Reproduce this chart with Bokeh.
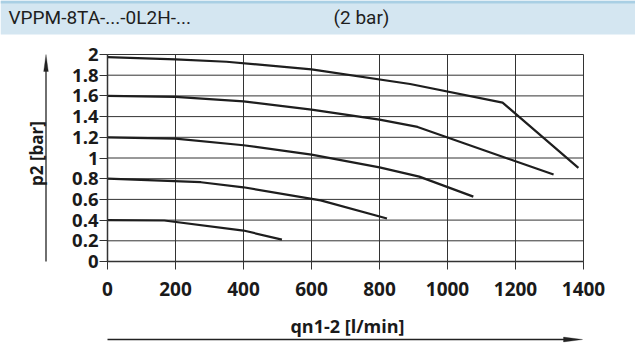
import math
from bokeh.plotting import figure
from bokeh.models import (FixedTicker, Label, BoxAnnotation, PolyAnnotation, Arrow,
                          Range1d, CustomJSTickFormatter, LinearAxis)
from bokeh.embed import file_html
from bokeh.resources import INLINE

# ---- data ----
header_left = "VPPM-8TA-...-0L2H-..."
header_right = "(2 bar)"
x_label = "qn1-2 [l/min]"
y_label = "p2 [bar]"
x_ticks = [0, 200, 400, 600, 800, 1000, 1200, 1400]
y_ticks = [0, 0.2, 0.4, 0.6, 0.8, 1, 1.2, 1.4, 1.6, 1.8, 2]

q_20 = [0, 200, 350, 600, 890, 1162, 1385]
p_20 = [1.975, 1.953, 1.93, 1.856, 1.715, 1.535, 0.905]
q_16 = [0, 200, 400, 600, 800, 912, 1312]
p_16 = [1.6, 1.59, 1.547, 1.467, 1.37, 1.30, 0.84]
q_12 = [0, 200, 400, 600, 800, 917, 1076]
p_12 = [1.2, 1.187, 1.123, 1.033, 0.91, 0.82, 0.627]
q_08 = [0, 275, 400, 627, 822]
p_08 = [0.8, 0.766, 0.717, 0.59, 0.415]
q_04 = [0, 167, 400, 513]
p_04 = [0.4, 0.396, 0.299, 0.212]
series = [(q_20, p_20), (q_16, p_16), (q_12, p_12), (q_08, p_08), (q_04, p_04)]

# ---- layout (pixels) ----
W, H = 635, 343
FL, FR, FT, FB = 107, 583, 54, 261      # data area inside the canvas
X0, X1 = x_ticks[0], x_ticks[-1]
Y0, Y1 = y_ticks[0], y_ticks[-1]
kx = (FR - FL) / (X1 - X0)
ky = (FB - FT) / (Y1 - Y0)
x_range = Range1d(X0 - FL / kx, X1 + (W - FR) / kx)
y_range = Range1d(Y0 - (H - FB) / ky, Y1 + FT / ky)

def SY(py):  # screen units: y measured from the bottom
    return H - py

p = figure(width=W, height=H, x_range=x_range, y_range=y_range,
           x_axis_location=None, y_axis_location=None,
           output_backend="svg", toolbar_location=None,
           min_border=0, min_border_left=0, min_border_right=0,
           min_border_top=0, min_border_bottom=0)
p.background_fill_color = "white"
p.border_fill_color = "white"
p.outline_line_color = None
p.xgrid.visible = False
p.ygrid.visible = False

GRID = "#333333"
# grid (drawn from the tick lists)
p.segment(x0=x_ticks, y0=[Y0] * len(x_ticks), x1=x_ticks, y1=[Y1] * len(x_ticks),
          line_color=GRID, line_width=1)
p.segment(x0=[X0] * len(y_ticks), y0=y_ticks, x1=[X1] * len(y_ticks), y1=y_ticks,
          line_color=GRID, line_width=1)

xax = LinearAxis(fixed_location=Y0, ticker=FixedTicker(ticks=x_ticks), bounds=(X0, X1))
yax = LinearAxis(fixed_location=X0, ticker=FixedTicker(ticks=y_ticks), bounds=(Y0, Y1),
                 formatter=CustomJSTickFormatter(code="return String(tick)"))
p.add_layout(xax, "below")
p.add_layout(yax, "left")
for ax in (xax, yax):
    ax.axis_line_color = GRID
    ax.axis_line_width = 1.5
    ax.major_tick_line_color = GRID
    ax.major_tick_in = 0
    ax.major_tick_out = 8
    ax.minor_tick_line_color = None
    ax.major_label_text_font = "Open Sans"
    ax.major_label_text_font_style = "bold"
    ax.major_label_text_font_size = "19px"
    ax.major_label_text_color = "#1a1a1a"
yax.major_label_text_font_size = "18.5px"
yax.major_label_standoff = 1
xax.major_label_standoff = 12

for qs, ps in series:
    p.line(qs, ps, line_color="#1e1e1e", line_width=2.2)

su = dict(x_units="screen", y_units="screen")

# header band
p.add_layout(BoxAnnotation(left=0, right=W, top=SY(0), bottom=SY(34),
                           left_units="screen", right_units="screen",
                           top_units="screen", bottom_units="screen",
                           fill_color="#d4e6f1", fill_alpha=1, line_color=None))
p.add_layout(BoxAnnotation(left=0, right=W, top=SY(0), bottom=SY(3),
                           left_units="screen", right_units="screen",
                           top_units="screen", bottom_units="screen",
                           fill_color="#a9cfe4", fill_alpha=1, line_color=None))
p.add_layout(Label(x=8, y=SY(17), text=header_left, text_font="Roboto",
                   text_font_size="19px", text_baseline="middle", text_align="left",
                   text_color="#1e1e1e", **su))
p.add_layout(Label(x=333, y=SY(17), text=header_right, text_font="Roboto",
                   text_font_size="19px", text_baseline="middle", text_align="left",
                   text_color="#1e1e1e", **su))

# axis titles
p.add_layout(Label(x=36, y=SY(153), text=y_label, angle=math.pi / 2,
                   text_font="Open Sans", text_font_style="bold", text_font_size="17px",
                   text_align="center", text_baseline="middle", text_color="#1a1a1a", **su))
p.add_layout(Label(x=347, y=SY(325), text=x_label,
                   text_font="Open Sans", text_font_style="bold", text_font_size="18px",
                   text_align="center", text_baseline="middle", text_color="#1a1a1a", **su))

# arrows
p.add_layout(Arrow(x_start=45.5, y_start=SY(261), x_end=45.5, y_end=SY(68),
                   start_units="screen", end_units="screen",
                   start=None, end=None, line_color="#222222", line_width=1.3))
p.add_layout(PolyAnnotation(xs=[45.5, 43.2, 47.8], ys=[SY(54), SY(71), SY(71)],
                            xs_units="screen", ys_units="screen",
                            fill_color="#222222", fill_alpha=1, line_color="#222222"))
p.add_layout(Arrow(x_start=107, y_start=SY(339), x_end=568, y_end=SY(339),
                   start_units="screen", end_units="screen",
                   start=None, end=None, line_color="#222222", line_width=1.3))
p.add_layout(PolyAnnotation(xs=[582, 563, 563], ys=[SY(339), SY(336.6), SY(341.4)],
                            xs_units="screen", ys_units="screen",
                            fill_color="#222222", fill_alpha=1, line_color="#222222"))

open("out.html", "w").write(file_html(p, INLINE))
